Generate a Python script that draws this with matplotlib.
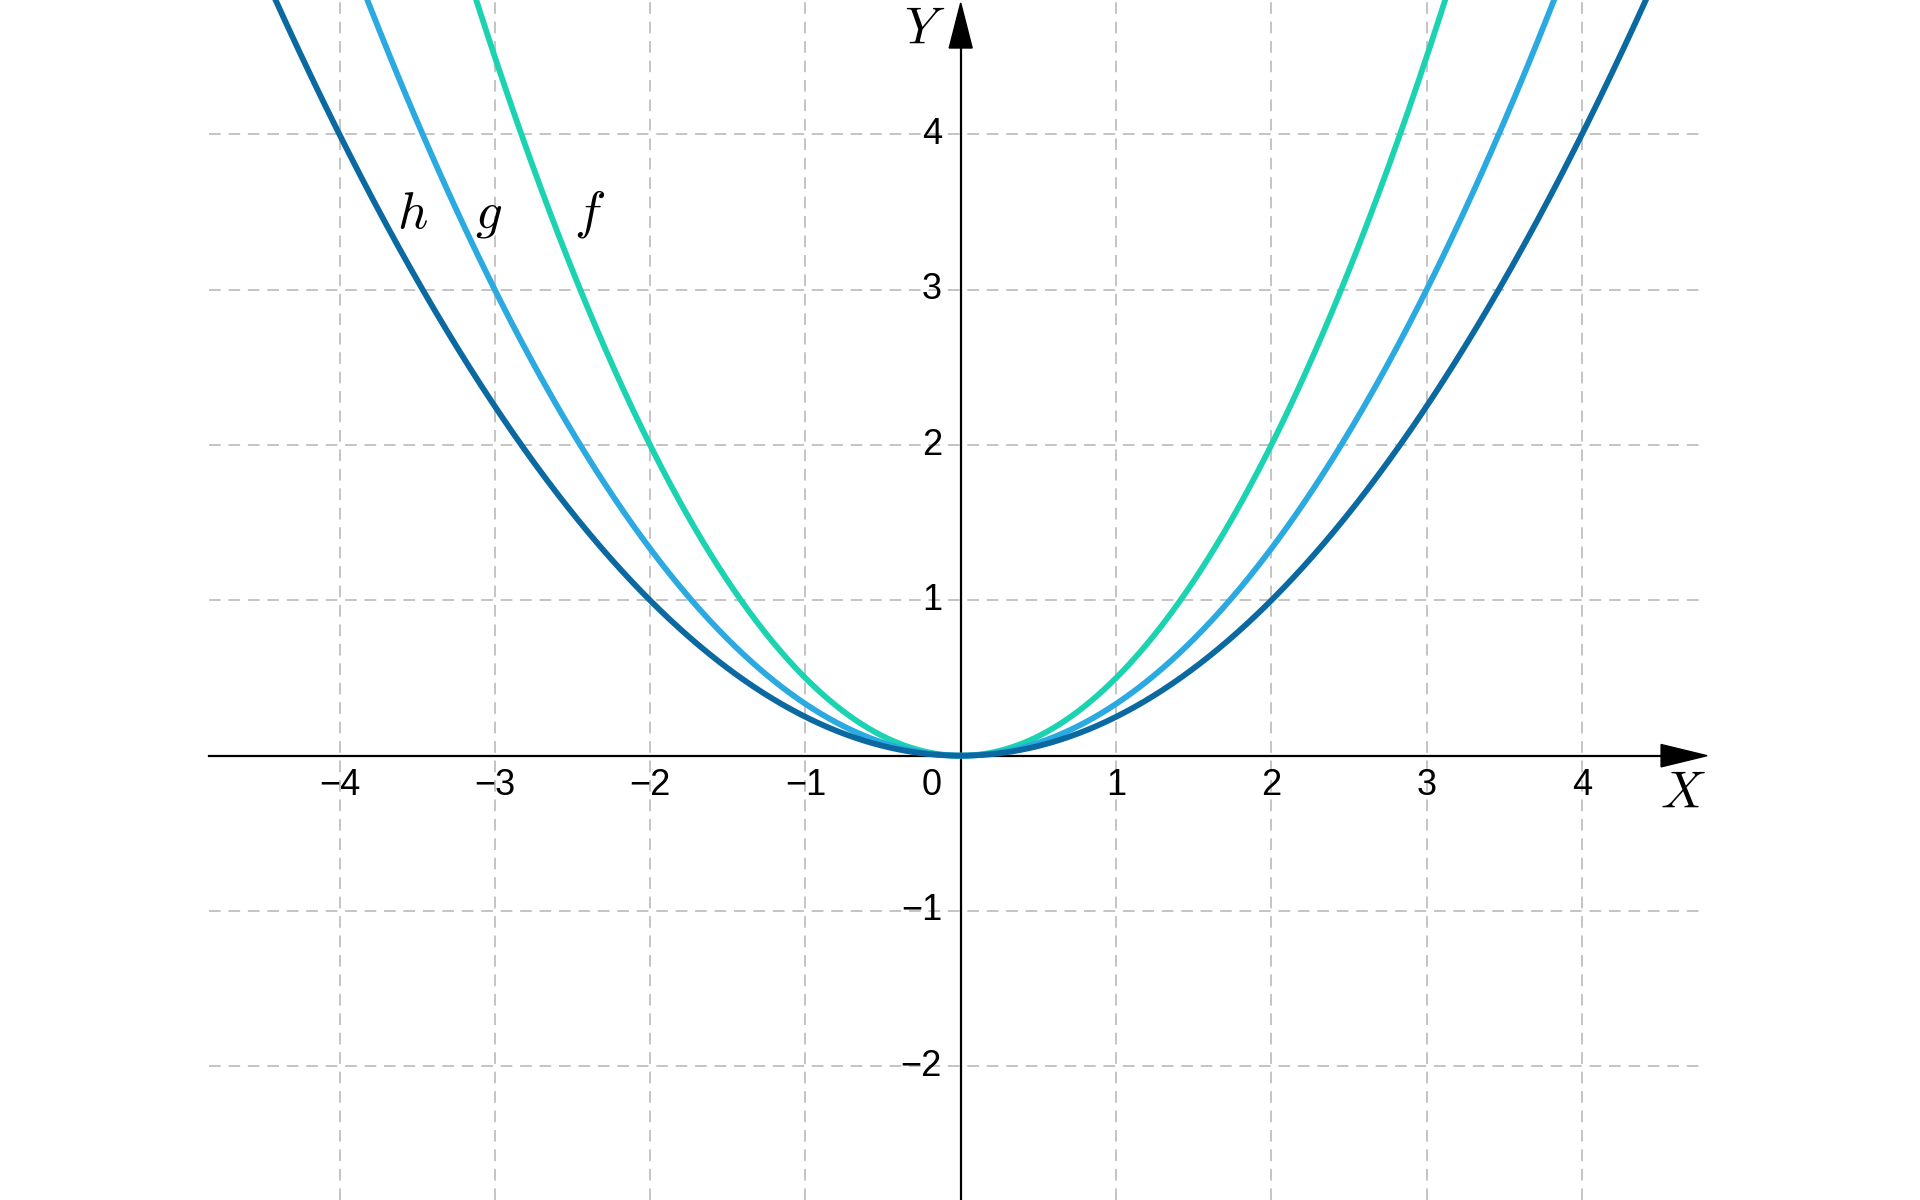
import numpy as np
import matplotlib.pyplot as plt

plt.rcParams['font.family'] = ['Liberation Sans', 'DejaVu Sans']
plt.rcParams['mathtext.fontset'] = 'cm'

# funkcje y = a * x^2
names = ['f', 'g', 'h']
coefs = [1 / 2, 1 / 3, 1 / 4]
colors = ['#1cd3b1', '#2aaae1', '#0a69a0']
label_x = [-2.39, -3.04, -3.53]
label_y = 3.40

x_ticks = [-4, -3, -2, -1, 1, 2, 3, 4]
y_ticks = [-2, -1, 1, 2, 3, 4]

# zakresy widoku (piksele -> jednostki)
x_min, x_max = -6.186, 6.177
y_min, y_max = -2.861, 4.866
grid_left, grid_right = -4.84, 4.80

fig = plt.figure(figsize=(19.2, 12), dpi=100)
ax = fig.add_axes([0, 0, 1, 1])
ax.set_xlim(x_min, x_max)
ax.set_ylim(y_min, y_max)
ax.set_aspect('equal')
ax.axis('off')

# siatka
for xt in x_ticks:
    ax.plot([xt, xt], [y_min, y_max], color='#c4c4c4', lw=1.4,
            dashes=(6, 4), zorder=1)
for yt in y_ticks:
    ax.plot([grid_left, grid_right], [yt, yt], color='#c4c4c4', lw=1.4,
            dashes=(6, 4), zorder=1)

# osie ze strzalkami
ax.plot([grid_left, 4.55], [0, 0], color='black', lw=1.6, zorder=2)
ax.plot([0, 0], [y_min, 4.6], color='black', lw=1.6, zorder=2)
ax.fill([4.51, 4.806, 4.51], [0.072, 0, -0.072], color='black', zorder=3)
ax.fill([-0.074, 0, 0.074], [4.557, 4.847, 4.557], color='black', zorder=3)

ax.text(4.65, -0.25, '$X$', fontsize=37, ha='center', va='center')
ax.text(-0.23, 4.67, '$Y$', fontsize=37, ha='center', va='center')

# etykiety osi
for xt in x_ticks:
    lab = str(xt).replace('-', '\u2212')
    ax.text(xt, -0.08, lab, fontsize=26, ha='center', va='top')
for yt in y_ticks:
    lab = str(yt).replace('-', '\u2212')
    ax.text(-0.12, yt, lab, fontsize=26, ha='right', va='center')
ax.text(-0.12, -0.08, '0', fontsize=26, ha='right', va='top')

# wykresy
x = np.linspace(-6, 6, 1201)
for name, a, c, lx in zip(names, coefs, colors, label_x):
    ax.plot(x, a * x ** 2, color=c, lw=4.2, zorder=4, solid_capstyle='round')
    ax.text(lx, label_y, '$' + name + '$', fontsize=38, ha='center',
            va='baseline')

fig.savefig('out.png', dpi=100)
